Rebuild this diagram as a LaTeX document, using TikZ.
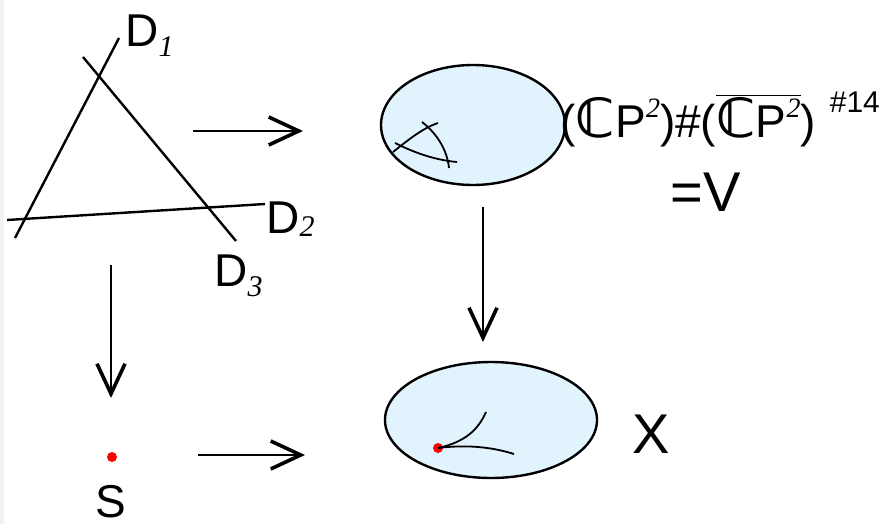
\documentclass[tikz,border=0pt]{standalone}
\usepackage{fontspec}
\setmainfont{Liberation Sans}
\newfontfamily\subfont{Liberation Serif}
\newfontfamily\bbfont{DejaVu Sans}
\usetikzlibrary{arrows.meta,shapes.geometric}
\definecolor{skyblue}{HTML}{E1F3FD}
\definecolor{stripgray}{HTML}{EEF5F1}
\newcommand{\idx}[2]{\raisebox{#1}{\fontsize{15}{18}\subfont\itshape #2}}
\newcommand{\sqr}{\raisebox{10pt}{\fontsize{14}{16}\subfont\itshape 2}}
\newcommand{\cc}{{\fontsize{27}{30}\bbfont\bfseries ℂ}}

\begin{document}
\begin{tikzpicture}[x=0.5pt,y=-0.5pt,
    line/.style={line width=1.2pt},
    thin/.style={line width=0.9pt},
    arrow/.style={line width=1pt,-{Straight Barb[length=15pt,width=14pt,line width=1.8pt]}},
    blob/.style={ellipse, draw=black, line width=1.2pt, fill=skyblue, inner sep=0pt},
    lbl/.style={inner sep=0pt, anchor=base west, font=\fontsize{23}{26}\selectfont},
    big/.style={inner sep=0pt, anchor=base west, font=\fontsize{28}{32}\selectfont},
    dot/.style={circle, fill=red, inner sep=0pt, minimum size=5pt}
]
    \useasboundingbox (0,0) rectangle (888,524);
    \fill[stripgray] (0,0) rectangle (4,524);

    % three lines
    \coordinate (d1a) at (15,238);  \coordinate (d1b) at (119,38);
    \coordinate (d2a) at (7,220);   \coordinate (d2b) at (265,204);
    \coordinate (d3a) at (83,57);   \coordinate (d3b) at (236,241);
    \draw[line] (d1a) -- (d1b);
    \draw[line] (d2a) -- (d2b);
    \draw[line] (d3a) -- (d3b);
    \node[lbl] (D1) at (125,47) {D\idx{-5pt}{1}};
    \node[lbl] (D2) at (266,233) {D\idx{-1.5pt}{2}};
    \node[lbl] (D3) at (214,286) {D\idx{-5pt}{3}};

    % the two surfaces
    \node[blob, minimum width=92pt, minimum height=60pt] (V) at (473,125) {};
    \node[blob, minimum width=106pt, minimum height=58pt] (X) at (491,420) {};
    \draw[thin] (393,152) .. controls (408,140) and (423,128) .. (438,123);
    \draw[thin] (422,122) .. controls (435,132) and (447,148) .. (449,168);
    \draw[thin] (395,143) .. controls (415,153) and (435,160) .. (457,162);
    \node[dot] (p) at (438,448) {};
    \draw[thin] (p.center) .. controls (465,442) and (478,430) .. (486,412);
    \draw[thin] (p.center) .. controls (470,444) and (495,448) .. (514,454);

    \node[lbl] (Vname) at (560,138) {(\cc P\sqr)\#($\overline{\hbox{\cc P\sqr}}$)\hspace{7pt}\raisebox{13pt}{\fontsize{15}{18}\selectfont\#14}};
    \node[big] (Veq) at (670,211) {=V};
    \node[big] (Xname) at (632,453) {X};

    % the point
    \node[dot] (s) at (112,457) {};
    \node[lbl, anchor=base] (S) at (111,517) {S};

    % maps
    \coordinate (a1s) at (193,131); \coordinate (a1e) at (303,131);
    \coordinate (a2s) at (111,265); \coordinate (a2e) at (111,398);
    \coordinate (a3s) at (483,207); \coordinate (a3e) at (483,342);
    \coordinate (a4s) at (198,455); \coordinate (a4e) at (305,455);
    \draw[arrow] (a1s) -- (a1e);
    \draw[arrow] (a2s) -- (a2e);
    \draw[arrow] (a3s) -- (a3e);
    \draw[arrow] (a4s) -- (a4e);
\end{tikzpicture}
\end{document}
